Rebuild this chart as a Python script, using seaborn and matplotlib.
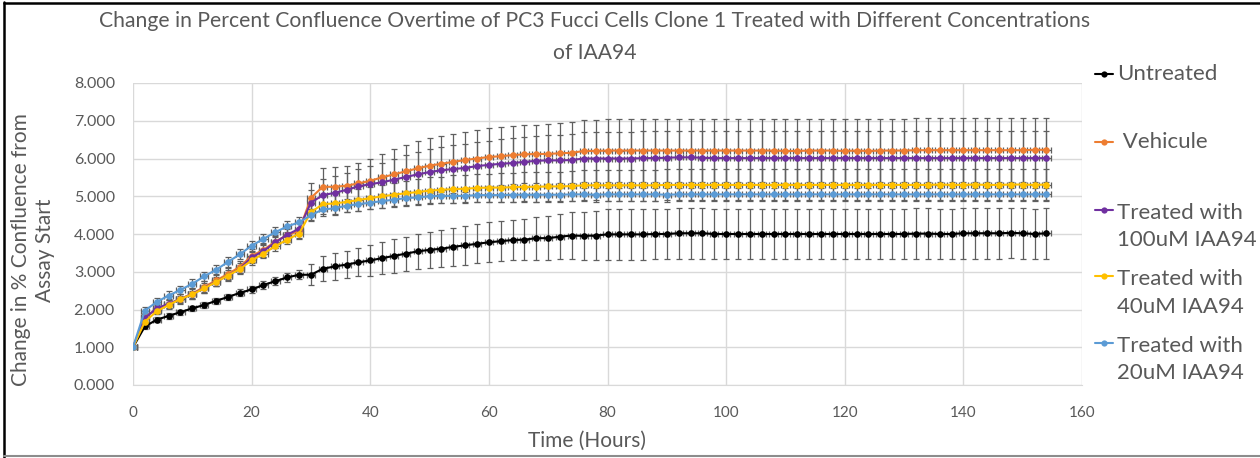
import matplotlib
matplotlib.use("Agg")
import matplotlib.pyplot as plt
from matplotlib.lines import Line2D
import pandas as pd
import seaborn as sns

# Sampling times (hours since assay start)
hours = list(range(0, 155, 2))

# Mean fold-change in confluence per condition
untreated = [
    1.00, 1.55, 1.73, 1.83, 1.93, 2.03, 2.12, 2.23, 2.33, 2.44, 2.53, 2.65, 2.75, 2.85, 2.92,
    2.92, 3.08, 3.14, 3.19, 3.25, 3.30, 3.36, 3.42, 3.48, 3.54, 3.58, 3.61, 3.66, 3.70, 3.74,
    3.78, 3.81, 3.84, 3.85, 3.89, 3.89, 3.93, 3.96, 3.95, 3.96, 3.99, 3.99, 3.99, 3.99, 4.00,
    4.00, 4.02, 4.02, 4.02, 4.00, 4.00, 4.00, 4.00, 4.00, 4.00, 4.00, 4.00, 4.00, 4.00, 4.00,
    4.00, 4.00, 4.00, 4.00, 4.00, 4.00, 4.01, 4.01, 4.00, 4.00, 4.02, 4.02, 4.02, 4.02, 4.03,
    4.02, 4.00, 4.02,
]
vehicle = [
    1.00, 1.80, 2.00, 2.14, 2.28, 2.42, 2.60, 2.77, 2.94, 3.13, 3.42, 3.58, 3.80, 3.97, 4.08,
    4.96, 5.25, 5.25, 5.28, 5.34, 5.41, 5.50, 5.58, 5.66, 5.74, 5.81, 5.86, 5.91, 5.96, 6.00,
    6.04, 6.06, 6.09, 6.11, 6.12, 6.12, 6.14, 6.15, 6.20, 6.20, 6.21, 6.21, 6.21, 6.21, 6.21,
    6.21, 6.21, 6.21, 6.21, 6.21, 6.21, 6.21, 6.21, 6.21, 6.21, 6.20, 6.20, 6.21, 6.21, 6.21,
    6.20, 6.21, 6.20, 6.21, 6.21, 6.21, 6.22, 6.22, 6.22, 6.22, 6.22, 6.22, 6.22, 6.22, 6.22,
    6.22, 6.23, 6.23,
]
iaa94_100 = [
    1.00, 1.78, 2.03, 2.15, 2.28, 2.41, 2.57, 2.74, 2.90, 3.08, 3.38, 3.55, 3.78, 3.98, 4.14,
    4.83, 5.03, 5.09, 5.17, 5.26, 5.32, 5.37, 5.44, 5.51, 5.58, 5.64, 5.69, 5.72, 5.75, 5.80,
    5.83, 5.86, 5.88, 5.91, 5.94, 5.95, 5.95, 5.96, 6.00, 6.00, 6.00, 6.00, 6.00, 6.01, 6.01,
    6.02, 6.03, 6.03, 6.02, 6.01, 6.01, 6.01, 6.01, 6.01, 6.01, 6.01, 6.01, 6.01, 6.01, 6.01,
    6.01, 6.01, 6.01, 6.01, 6.01, 6.01, 6.01, 6.01, 6.01, 6.01, 6.01, 6.01, 6.01, 6.01, 6.01,
    6.01, 6.01, 6.01,
]
iaa94_40 = [
    1.00, 1.68, 1.95, 2.12, 2.28, 2.40, 2.56, 2.73, 2.90, 3.07, 3.30, 3.48, 3.68, 3.85, 4.01,
    4.58, 4.79, 4.81, 4.85, 4.90, 4.95, 5.00, 5.04, 5.08, 5.11, 5.15, 5.17, 5.19, 5.20, 5.22,
    5.23, 5.23, 5.24, 5.25, 5.25, 5.26, 5.26, 5.27, 5.29, 5.29, 5.29, 5.29, 5.29, 5.29, 5.29,
    5.30, 5.30, 5.30, 5.30, 5.30, 5.30, 5.30, 5.30, 5.30, 5.30, 5.30, 5.30, 5.30, 5.30, 5.30,
    5.30, 5.30, 5.30, 5.30, 5.30, 5.30, 5.30, 5.30, 5.31, 5.30, 5.30, 5.31, 5.30, 5.30, 5.31,
    5.31, 5.30, 5.31,
]
iaa94_20 = [
    1.00, 1.97, 2.20, 2.37, 2.52, 2.68, 2.88, 3.05, 3.26, 3.46, 3.69, 3.87, 4.05, 4.20, 4.31,
    4.50, 4.65, 4.68, 4.75, 4.79, 4.83, 4.87, 4.91, 4.95, 4.97, 5.00, 5.01, 5.01, 5.01, 5.03,
    5.03, 5.03, 5.04, 5.04, 5.04, 5.04, 5.04, 5.05, 5.05, 5.04, 5.05, 5.05, 5.05, 5.05, 5.05,
    5.04, 5.05, 5.05, 5.05, 5.05, 5.05, 5.05, 5.05, 5.05, 5.05, 5.05, 5.05, 5.05, 5.05, 5.05,
    5.05, 5.05, 5.05, 5.05, 5.05, 5.05, 5.05, 5.05, 5.05, 5.05, 5.05, 5.05, 5.05, 5.05, 5.05,
    5.05, 5.05, 5.05,
]

# Standard deviations
untreated_sd = [
    0.02, 0.07, 0.07, 0.07, 0.07, 0.07, 0.08, 0.08, 0.08, 0.09, 0.09, 0.10, 0.10, 0.11, 0.12,
    0.28, 0.33, 0.35, 0.36, 0.37, 0.40, 0.42, 0.44, 0.45, 0.47, 0.48, 0.49, 0.50, 0.51, 0.52,
    0.53, 0.53, 0.54, 0.55, 0.57, 0.58, 0.60, 0.61, 0.63, 0.65, 0.67, 0.67, 0.67, 0.67, 0.67,
    0.67, 0.67, 0.67, 0.67, 0.67, 0.67, 0.67, 0.67, 0.67, 0.67, 0.67, 0.67, 0.67, 0.67, 0.67,
    0.67, 0.67, 0.67, 0.67, 0.67, 0.67, 0.67, 0.67, 0.67, 0.67, 0.67, 0.67, 0.67, 0.67, 0.67,
    0.67, 0.67, 0.67,
]
vehicle_sd = [
    0.02, 0.12, 0.13, 0.13, 0.14, 0.14, 0.15, 0.15, 0.16, 0.16, 0.17, 0.18, 0.18, 0.19, 0.20,
    0.40, 0.50, 0.52, 0.53, 0.55, 0.58, 0.62, 0.66, 0.69, 0.72, 0.73, 0.74, 0.75, 0.75, 0.76,
    0.76, 0.77, 0.77, 0.77, 0.78, 0.79, 0.80, 0.81, 0.82, 0.83, 0.84, 0.84, 0.84, 0.84, 0.84,
    0.84, 0.84, 0.84, 0.84, 0.84, 0.84, 0.84, 0.84, 0.84, 0.84, 0.84, 0.84, 0.84, 0.84, 0.84,
    0.84, 0.84, 0.84, 0.84, 0.84, 0.84, 0.84, 0.84, 0.84, 0.84, 0.84, 0.84, 0.84, 0.84, 0.84,
    0.84, 0.84, 0.84,
]
iaa94_100_sd = [
    0.02, 0.10, 0.11, 0.11, 0.12, 0.12, 0.13, 0.13, 0.14, 0.14, 0.15, 0.15, 0.16, 0.16, 0.17,
    0.34, 0.42, 0.44, 0.45, 0.47, 0.49, 0.52, 0.55, 0.58, 0.60, 0.61, 0.62, 0.63, 0.63, 0.64,
    0.64, 0.65, 0.65, 0.65, 0.66, 0.67, 0.68, 0.69, 0.70, 0.70, 0.71, 0.71, 0.71, 0.71, 0.71,
    0.71, 0.71, 0.71, 0.71, 0.71, 0.71, 0.71, 0.71, 0.71, 0.71, 0.71, 0.71, 0.71, 0.71, 0.71,
    0.71, 0.71, 0.71, 0.71, 0.71, 0.71, 0.71, 0.71, 0.71, 0.71, 0.71, 0.71, 0.71, 0.71, 0.71,
    0.71, 0.71, 0.71,
]
iaa94_40_sd = [
    0.02, 0.08, 0.08, 0.09, 0.09, 0.09, 0.10, 0.10, 0.10, 0.11, 0.11, 0.11, 0.12, 0.12, 0.12,
    0.22, 0.26, 0.27, 0.28, 0.29, 0.30, 0.31, 0.32, 0.33, 0.34, 0.35, 0.35, 0.36, 0.36, 0.37,
    0.37, 0.38, 0.38, 0.38, 0.39, 0.39, 0.39, 0.40, 0.40, 0.40, 0.41, 0.41, 0.41, 0.41, 0.41,
    0.41, 0.41, 0.41, 0.41, 0.41, 0.41, 0.41, 0.41, 0.41, 0.41, 0.41, 0.41, 0.41, 0.41, 0.41,
    0.41, 0.41, 0.41, 0.41, 0.41, 0.41, 0.41, 0.41, 0.41, 0.41, 0.41, 0.41, 0.41, 0.41, 0.41,
    0.41, 0.41, 0.41,
]
iaa94_20_sd = [
    0.02, 0.10, 0.10, 0.11, 0.11, 0.12, 0.12, 0.12, 0.13, 0.13, 0.13, 0.14, 0.14, 0.14, 0.15,
    0.16, 0.17, 0.17, 0.17, 0.17, 0.18, 0.18, 0.18, 0.18, 0.18, 0.18, 0.18, 0.18, 0.18, 0.18,
    0.18, 0.18, 0.18, 0.18, 0.18, 0.18, 0.18, 0.18, 0.18, 0.18, 0.18, 0.18, 0.18, 0.18, 0.18,
    0.18, 0.18, 0.18, 0.18, 0.18, 0.18, 0.18, 0.18, 0.18, 0.18, 0.18, 0.18, 0.18, 0.18, 0.18,
    0.18, 0.18, 0.18, 0.18, 0.18, 0.18, 0.18, 0.18, 0.18, 0.18, 0.18, 0.18, 0.18, 0.18, 0.18,
    0.18, 0.18, 0.18,
]
time_sd = 0.7  # timing uncertainty of each acquisition (hours)

labels = ["Untreated", " Vehicule", "Treated with\n100uM IAA94",
          "Treated with\n40uM IAA94", "Treated with\n20uM IAA94"]
means = [untreated, vehicle, iaa94_100, iaa94_40, iaa94_20]
sds = [untreated_sd, vehicle_sd, iaa94_100_sd, iaa94_40_sd, iaa94_20_sd]
colors = ["#000000", "#ED7D31", "#7030A0", "#FFC000", "#5B9BD5"]

df = pd.concat(
    [pd.DataFrame({"hours": hours, "value": m, "sd": s, "group": lab})
     for lab, m, s in zip(labels, means, sds)],
    ignore_index=True,
)

sns.set_style("white")
plt.rcParams["font.family"] = ["Lato", "DejaVu Sans"]

W, H = 1260, 458
fig = plt.figure(figsize=(W / 100, H / 100), dpi=100)
fig.patch.set_facecolor("white")
ax = fig.add_axes([133 / W, 1 - 385 / H, (1082 - 133) / W, (385 - 83) / H])

grey = "#595959"

# error bars underneath the series lines
for lab in labels:
    sub = df[df["group"] == lab]
    ax.errorbar(sub["hours"], sub["value"], yerr=sub["sd"], xerr=time_sd,
                fmt="none", ecolor="#5f5f5f", elinewidth=0.9, capsize=2.2,
                capthick=0.9, zorder=2)

sns.lineplot(data=df, x="hours", y="value", hue="group", hue_order=labels,
             palette=colors, marker="o", markersize=4.8, markeredgewidth=0,
             linewidth=1.5, legend=False, sort=False, errorbar=None, ax=ax,
             zorder=3)

ax.set_xlim(0, 160)
ax.set_ylim(0, 8)
ax.set_xticks(range(0, 161, 20))
ax.set_yticks(range(0, 9))
ax.set_yticklabels([f"{v:.3f}" for v in range(0, 9)])
ax.grid(True, color="#d9d9d9", linewidth=1.0)
ax.set_axisbelow(True)
for side in ["top", "right", "left"]:
    ax.spines[side].set_visible(False)
ax.spines["bottom"].set_color("#d9d9d9")
ax.tick_params(axis="y", length=0, pad=13, labelsize=11.5, labelcolor=grey)
ax.tick_params(axis="x", length=0, pad=15, labelsize=11, labelcolor=grey)
ax.set_xlabel("")
ax.set_ylabel("")

fig.text(595 / W, 1 - 37 / H,
         "Change in Percent Confluence Overtime of PC3 Fucci Cells Clone 1 Treated with Different Concentrations\nof IAA94",
         ha="center", va="center", fontsize=15.2, color=grey, linespacing=1.72)
fig.text(587 / W, 1 - 441 / H, "Time (Hours)", ha="center", va="center",
         fontsize=15, color=grey)
fig.text(33 / W, 1 - 250 / H, "Change in % Confluence from\nAssay Start",
         ha="center", va="center", rotation=90, fontsize=15, color=grey,
         linespacing=1.3)

# legend column on the right
handle_y = [74, 142, 210, 276, 343]
text_y = [74, 142, 226.5, 293, 359.5]
for lab, col, hy, ty in zip(labels, colors, handle_y, text_y):
    yf = 1 - hy / H
    fig.add_artist(Line2D([1095 / W, 1113 / W], [yf, yf], color=col,
                          linewidth=1.5, transform=fig.transFigure))
    fig.add_artist(Line2D([1104 / W], [yf], color=col, marker="o",
                          markersize=4.5, markeredgewidth=0,
                          transform=fig.transFigure))
    fig.text(1117 / W, 1 - ty / H, lab, ha="left", va="center",
             fontsize=16, color=grey, linespacing=1.45)

# outer frame
fig.add_artist(Line2D([3.5 / W, 3.5 / W], [0, 1 - 2 / H], color="black",
                      linewidth=1.8, transform=fig.transFigure))
fig.add_artist(Line2D([3.5 / W, 1], [1 - 2.5 / H, 1 - 2.5 / H], color="black",
                      linewidth=1.8, transform=fig.transFigure))
fig.add_artist(Line2D([3.5 / W, 1], [1 - 455.5 / H, 1 - 455.5 / H],
                      color="#8c8c8c", linewidth=1.5, transform=fig.transFigure))

fig.savefig("out.png", dpi=100, facecolor="white")
